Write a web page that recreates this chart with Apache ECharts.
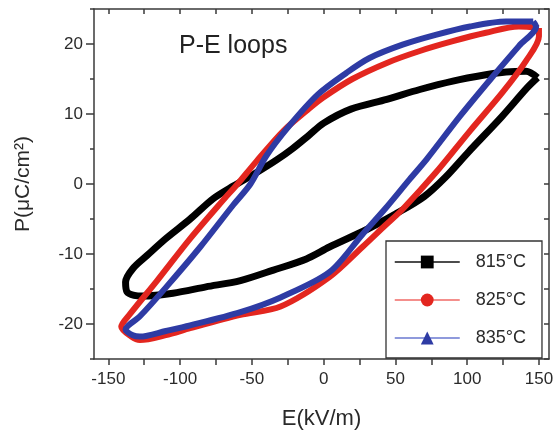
<!DOCTYPE html>
<html>
<head>
<meta charset="utf-8">
<script src="https://cdn.jsdelivr.net/npm/echarts@6/dist/echarts.min.js"></script>
<style>
  html, body { margin: 0; padding: 0; background: #fff; }
  #chart { width: 558px; height: 435px; }
</style>
</head>
<body>
<div id="chart"></div>
<script>
// P-E hysteresis loops, traced from right tip along the descending branch
// to the left tip and back along the ascending branch.
const E_815 = [149, 141, 127, 113, 90, 67, 44, 19, 0, -10, -22, -33, -47, -63, -77, -93, -110, -123, -133, -138, -137, -132, -126, -105, -82, -58, -35, -12, 4, 30, 50, 70, 85, 101, 124, 142, 149];
const P_815 = [15.2, 16.1, 16.0, 15.6, 14.7, 13.5, 12.1, 10.7, 8.7, 7.0, 5.0, 3.4, 1.6, -0.3, -2.1, -5.0, -7.8, -10.2, -12.1, -14.0, -15.4, -15.9, -16.0, -15.6, -14.7, -13.8, -12.3, -10.7, -9.0, -6.5, -4.3, -1.8, 1.0, 4.6, 9.6, 13.8, 15.2];

const E_825 = [150, 136, 113, 90, 67, 44, 20, 0, -10, -28, -47, -60, -70, -93, -116, -135, -141, -134, -128, -110, -93, -58, -30, 4, 27, 43, 55, 78, 102, 125, 141, 150, 150];
const P_825 = [22.3, 22.5, 21.6, 20.4, 19.0, 17.3, 15.0, 12.4, 10.8, 7.6, 3.2, 0.0, -2.3, -7.8, -13.8, -18.6, -20.4, -21.8, -22.3, -21.6, -20.6, -18.7, -17.5, -13.3, -9.0, -5.9, -3.6, 1.6, 7.6, 13.2, 17.6, 21.1, 22.3];

const E_835 = [146, 127, 102, 78, 55, 32, 16, -4, -24, -40, -51, -63, -86, -110, -128, -138, -133, -128, -110, -93, -58, -30, 4, 27, 43, 60, 72, 95, 118, 136, 148, 146];
const P_835 = [23.2, 23.2, 22.5, 21.3, 19.9, 18.0, 15.9, 12.8, 8.3, 4.0, 0.0, -3.0, -9.0, -14.8, -18.9, -20.8, -21.6, -21.8, -21.0, -20.2, -18.3, -16.2, -12.6, -7.2, -3.5, 0.7, 3.6, 9.7, 15.4, 19.7, 22.5, 23.2];

const seriesNames = ['815°C', '825°C', '835°C'];
const xTickValues = [-150, -125, -100, -75, -50, -25, 0, 25, 50, 75, 100, 125, 150];
const xLabelValues = [-150, -100, -50, 0, 50, 100, 150];
const yLabelValues = [-20, -10, 0, 10, 20];

const pairs = (xs, ys) => xs.map((x, i) => [x, ys[i]]);

const axisColor = '#3a3a3a';
const fontFamily = 'Liberation Sans, Arial, sans-serif';
const labelFont = { color: '#2a2a2a', fontSize: 17, fontFamily };

const chart = echarts.init(document.getElementById('chart'), null, { renderer: 'canvas' });

chart.setOption({
  animation: false,
  backgroundColor: '#fff',
  title: {
    text: 'P-E loops',
    left: 174,
    top: 29,
    textStyle: { fontSize: 25, fontWeight: 'normal', color: '#222', fontFamily }
  },
  grid: { left: 94, right: 9, top: 9, bottom: 74, containLabel: false },
  xAxis: [
    {
      type: 'value', min: -160, max: 157, position: 'bottom',
      name: 'E(kV/m)', nameLocation: 'middle', nameGap: 49,
      nameTextStyle: { fontSize: 22, color: '#2a2a2a', fontFamily },
      axisLine: { show: true, onZero: false, lineStyle: { color: axisColor, width: 1.5 } },
      axisTick: { show: true, inside: false, length: 6, customValues: xTickValues, lineStyle: { color: axisColor, width: 1.5 } },
      axisLabel: { show: true, margin: 12, customValues: xLabelValues, ...labelFont },
      splitLine: { show: false }
    },
    {
      type: 'value', min: -160, max: 157, position: 'top',
      axisLine: { show: true, onZero: false, lineStyle: { color: axisColor, width: 1.5 } },
      axisTick: { show: true, inside: true, length: 5, customValues: xTickValues, lineStyle: { color: axisColor, width: 1.5 } },
      axisLabel: { show: false },
      splitLine: { show: false }
    }
  ],
  yAxis: [
    {
      type: 'value', min: -25, max: 25, interval: 5, position: 'left',
      name: 'P(μC/cm²)', nameLocation: 'middle', nameGap: 60, nameRotate: 90,
      nameTextStyle: { fontSize: 21, color: '#2a2a2a', fontFamily },
      axisLine: { show: true, onZero: false, lineStyle: { color: axisColor, width: 1.5 } },
      axisTick: { show: true, inside: false, length: 4, lineStyle: { color: axisColor, width: 1.5 } },
      axisLabel: { show: true, margin: 11, customValues: yLabelValues, ...labelFont },
      splitLine: { show: false }
    },
    {
      type: 'value', min: -25, max: 25, interval: 5, position: 'right',
      axisLine: { show: true, onZero: false, lineStyle: { color: axisColor, width: 1.5 } },
      axisTick: { show: true, inside: true, length: 5, lineStyle: { color: axisColor, width: 1.5 } },
      axisLabel: { show: false },
      splitLine: { show: false }
    },
    {
      // longer major ticks on the left edge
      type: 'value', min: -25, max: 25, position: 'left',
      axisLine: { show: false, onZero: false },
      axisTick: { show: true, inside: false, length: 8, customValues: yLabelValues, lineStyle: { color: axisColor, width: 1.5 } },
      axisLabel: { show: false },
      splitLine: { show: false }
    }
  ],
  legend: {
    orient: 'vertical',
    left: 386, top: 241,
    padding: [12, 16, 11, 8],
    itemWidth: 65, itemHeight: 16, itemGap: 20,
    borderColor: '#333', borderWidth: 1.3, borderRadius: 0,
    backgroundColor: '#fff',
    textStyle: { fontSize: 18, color: '#2a2a2a', padding: [0, 0, 0, 11], fontFamily },
    data: [
      { name: seriesNames[0], lineStyle: { color: '#111', width: 1.5 } },
      { name: seriesNames[1], lineStyle: { color: '#f06a66', width: 1.5 } },
      { name: seriesNames[2], lineStyle: { color: '#6a78d0', width: 1.5 } }
    ]
  },
  series: [
    {
      name: seriesNames[0], type: 'line', xAxisIndex: 0, yAxisIndex: 0,
      data: pairs(E_815, P_815), smooth: 0.3,
      symbol: 'rect', symbolSize: 13, showSymbol: false,
      lineStyle: { color: '#000', width: 7 }, itemStyle: { color: '#000' }
    },
    {
      name: seriesNames[1], type: 'line', xAxisIndex: 0, yAxisIndex: 0,
      data: pairs(E_825, P_825), smooth: 0.3,
      symbol: 'circle', symbolSize: 14, showSymbol: false,
      lineStyle: { color: '#e3261f', width: 6 }, itemStyle: { color: '#e3261f' }
    },
    {
      name: seriesNames[2], type: 'line', xAxisIndex: 0, yAxisIndex: 0,
      data: pairs(E_835, P_835), smooth: 0.3,
      symbol: 'triangle', symbolSize: 15, showSymbol: false,
      lineStyle: { color: '#2e3ba4', width: 6 }, itemStyle: { color: '#2e3ba4' }
    }
  ]
});
</script>
</body>
</html>
